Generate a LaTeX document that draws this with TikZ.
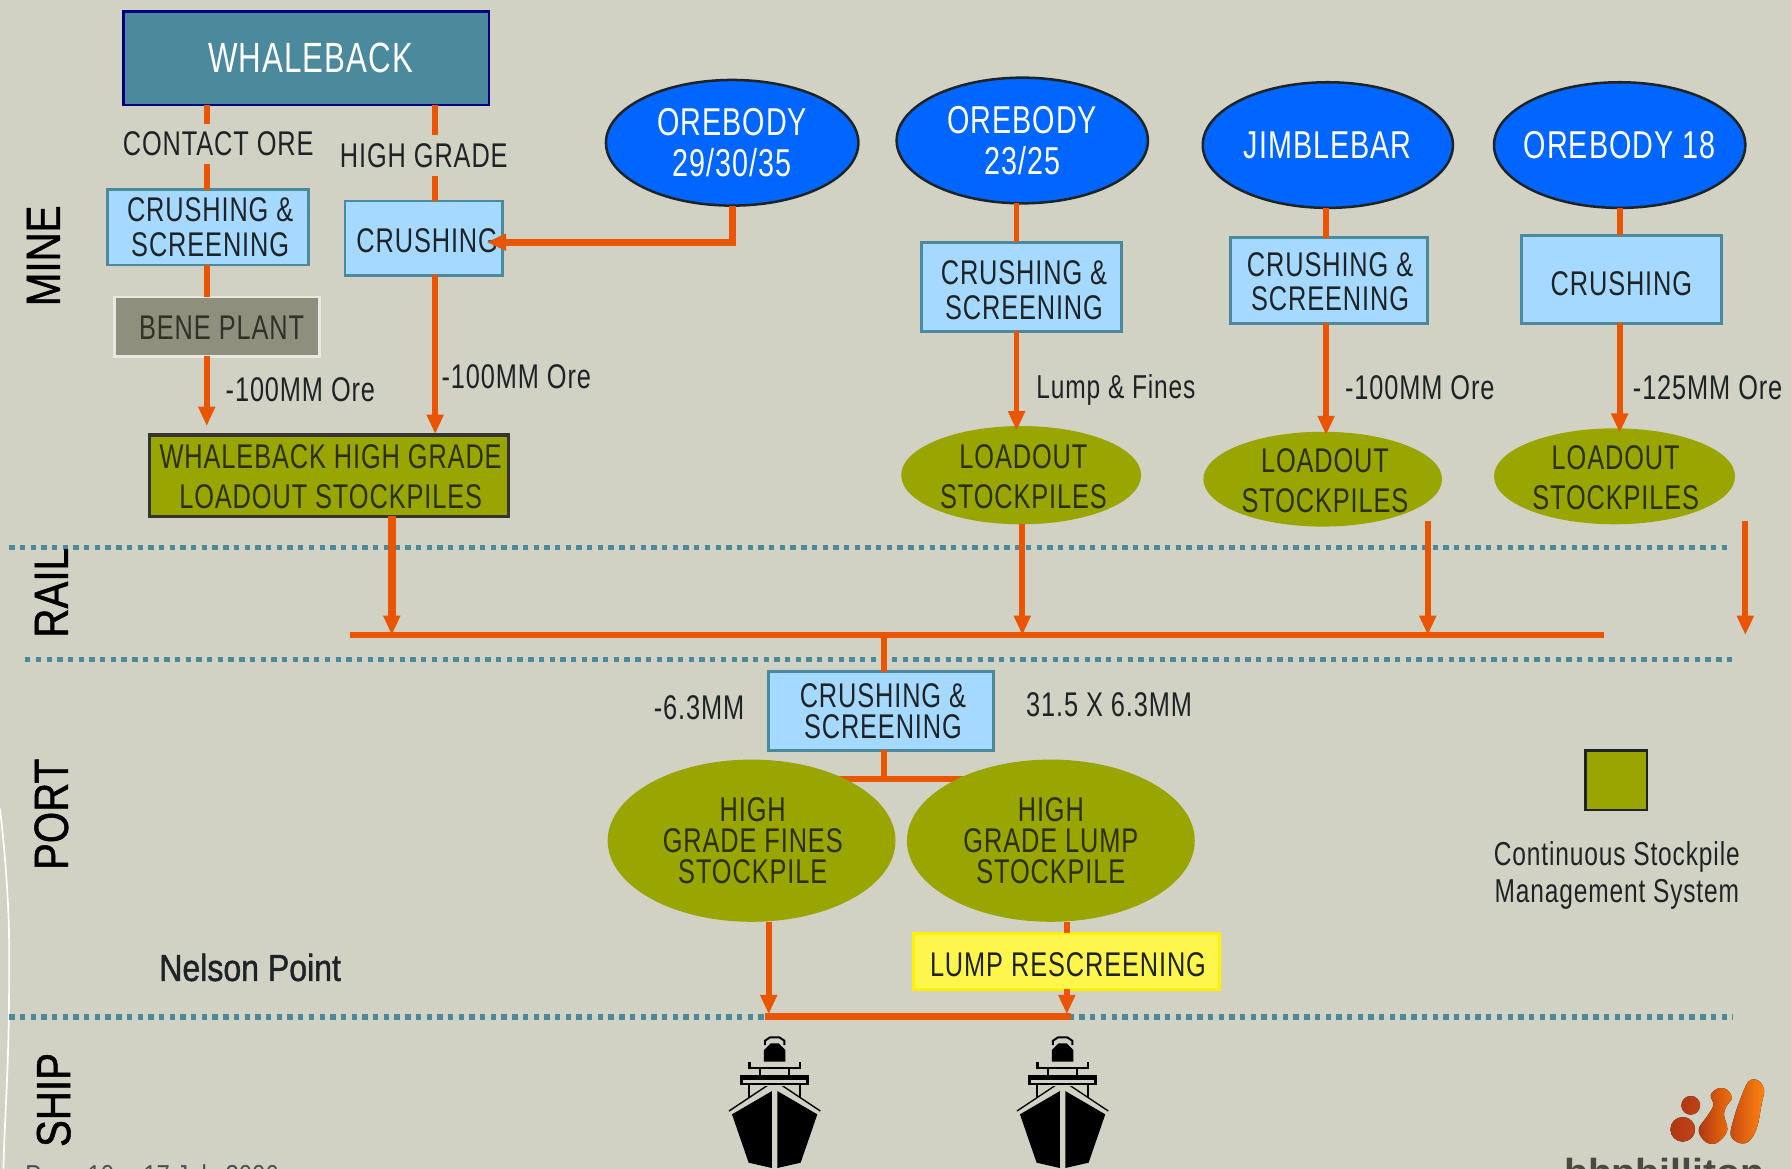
\documentclass[tikz,border=0pt]{standalone}
\usepackage{fontspec}
\setmainfont[FakeStretch=0.74,LetterSpace=2.6]{Liberation Sans}
\newfontfamily\nelson[FakeStretch=0.85,FakeBold=1.2]{Liberation Sans}
\newfontfamily\sidefont[FakeStretch=0.84,FakeBold=1]{Liberation Sans}
\newfontfamily\footfont[FakeStretch=0.87]{Liberation Sans}
\newfontfamily\logofont[FakeStretch=1.04]{Liberation Sans}
\usetikzlibrary{shapes.geometric,arrows.meta,calc}
\pgfdeclarelayer{bgfill}
\pgfdeclarelayer{lowconn}
\pgfsetlayers{bgfill,lowconn,main}
\definecolor{bgc}{HTML}{D1D1C4}
\definecolor{tealc}{HTML}{4A8A9C}
\definecolor{navyc}{HTML}{000080}
\definecolor{skyc}{HTML}{A6D9FF}
\definecolor{olivec}{HTML}{99A500}
\definecolor{orangec}{HTML}{EA5504}
\definecolor{bluec}{HTML}{0066FF}
\definecolor{inkc}{HTML}{1E2426}
\definecolor{olivetxt}{HTML}{2C3008}
\definecolor{benec}{HTML}{8F8F7D}
\definecolor{beneb}{HTML}{E8E8E0}
\definecolor{benet}{HTML}{303228}
\definecolor{logot}{HTML}{4A4A44}
\definecolor{logoa}{HTML}{B03812}
\definecolor{logob}{HTML}{C2421A}
\definecolor{logoc}{HTML}{F0700A}
\definecolor{logod}{HTML}{C84A10}
\definecolor{logoe}{HTML}{FF8410}
\newcommand{\fs}[2]{\fontsize{#1}{#2}\selectfont}
\tikzset{
  x=1pt,y=-1pt,
  conn/.style={draw=orangec,line width=5pt},
  arr/.style={conn,-{Triangle[width=14pt,length=17pt]}},
  dots/.style={draw=tealc,line width=4.7pt,dash pattern=on 4.7pt off 4.67pt},
  base/.style={inner sep=0pt,outer sep=0pt,align=center},
  sky/.style={base,rectangle,draw=tealc,line width=2.5pt,fill=skyc},
  skytx/.style={align=center,inner sep=0pt,text=inkc,font=\fs{30}{30}},
  txt/.style={inner sep=0pt,align=center,text=inkc,font=\fs{30}{30}},
  gap/.style={txt,fill=bgc,inner ysep=3pt,inner xsep=1pt},
  side/.style={inner sep=0pt,rotate=90,text=black,font=\sidefont\fs{42}{42}},
  blue/.style={base,ellipse,draw=inkc,line width=2.2pt,fill=bluec},
  bluetxt/.style={align=center,inner sep=0pt,text=white,font=\fs{34}{36}},
  olive/.style={base,ellipse,fill=olivec},
  olivetx/.style={align=center,inner sep=0pt,text=olivetxt,font=\fs{30}{35}},
  portx/.style={align=center,inner sep=0pt,text=olivetxt,font=\fs{30}{27}},
  shipblack/.style={fill=black,draw=none},
}
\newcommand{\shipicon}[2]{%
  \begin{scope}[shift={(#1,#2)},x=.2918pt,y=-.2918pt]
    \fill[shipblack] (-8,333) -- (-128,403) -- (-78,548) -- (-8,564) -- cycle;
    \fill[shipblack] (8,333) -- (128,403) -- (78,548) -- (8,564) -- cycle;
    \draw[black,line width=1.2pt] (-137,393) -- (-20,315) -- (20,315) -- (137,393);
    \draw[black,line width=1.5pt] (-76,315) -- (-76,352) (76,315) -- (76,352);
    \fill[shipblack] (-104,285) rectangle (104,316);
    \fill[bgc] (-95,300) rectangle (95,309);
    \fill[bgc] (-72,316) rectangle (72,318);
    \fill[shipblack] (-24,309) rectangle (24,316);
    \fill[shipblack] (-79,245) rectangle (79,268);
    \fill[bgc] (-72,247) rectangle (72,262);
    \draw[black,line width=1.5pt] (-44,268) -- (-44,285) (44,268) -- (44,285);
    \fill[shipblack] (-32,245) -- (-32,210) -- (-12,190) -- (12,190) -- (32,210) -- (32,245) -- cycle;
    \draw[black,line width=1.7pt] (-29,195) -- (-29,182) -- (-14,172) -- (14,172) -- (29,182) -- (29,195);
  \end{scope}}
\begin{document}
\begin{tikzpicture}
\begin{pgfonlayer}{bgfill}
\fill[bgc] (0,0) rectangle (1568,1023);
\end{pgfonlayer}
\useasboundingbox (0,0) rectangle (1568,1023);
\draw[white,line width=1.5pt] (0,708) .. controls (6,760) and (9,810) .. (8,860) .. controls (8,930) and (4,980) .. (3,1023);

% separators
\coordinate (d1a) at (8,479.5);   \coordinate (d1b) at (1515,479.5);
\coordinate (d2a) at (22,577.5);  \coordinate (d2b) at (1521,577.5);
\coordinate (d3a) at (8,890.5);   \coordinate (d3b) at (1517,890.5);
\draw[dots] (d1a) -- (d1b);
\draw[dots] (d2a) -- (d2b);
\draw[dots] (d3a) -- (d3b);

% side titles
\node[side] (tmine) at (38,224) {MINE};
\node[side] (trail) at (45,519) {RAIL};
\node[side] (tport) at (45,713) {PORT};
\node[side] (tship) at (47,963) {SHIP};

% mine sites
\node[base,rectangle,draw=navyc,line width=2.4pt,fill=tealc,minimum width=320pt,minimum height=82pt,
      label={[align=center,inner sep=0pt,text=white,font=\fs{37}{37},xshift=4pt]center:WHALEBACK}] (wb) at (268,51) {};
\node[blue,minimum width=221pt,minimum height=110pt,label={[bluetxt]center:OREBODY\\29/30/35}] (ob29) at (641,125) {};
\node[blue,minimum width=220pt,minimum height=110pt,label={[bluetxt]center:OREBODY\\23/25}] (ob23) at (895,123) {};
\node[blue,minimum width=219pt,minimum height=110pt,label={[bluetxt]center:JIMBLEBAR}] (jim) at (1162.5,127) {};
\node[blue,minimum width=220pt,minimum height=110pt,label={[bluetxt]center:OREBODY 18}] (ob18) at (1418,127) {};

% processing
\node[sky,minimum width=176pt,minimum height=66pt,label={[skytx,xshift=2pt,yshift=0pt]center:CRUSHING \&\\SCREENING}] (cs1) at (182,199) {};
\node[sky,minimum width=138pt,minimum height=65pt,label={[skytx,xshift=3pt,yshift=-2pt]center:CRUSHING}] (cr1) at (371,208.5) {};
\node[sky,minimum width=175pt,minimum height=78pt,label={[skytx,xshift=2pt,yshift=-3pt]center:CRUSHING \&\\SCREENING}] (cs2) at (894.5,251) {};
\node[sky,minimum width=173pt,minimum height=75pt,label={[skytx,xshift=1pt,yshift=-1pt]center:CRUSHING \&\\SCREENING}] (cs3) at (1163.5,245.5) {};
\node[sky,minimum width=175pt,minimum height=77pt,label={[skytx,yshift=-4pt]center:CRUSHING}] (cr2) at (1419.5,244.5) {};
\node[base,rectangle,draw=beneb,line width=2.5pt,fill=benec,minimum width=180pt,minimum height=52pt,
      label={[align=center,inner sep=0pt,text=benet,font=\fs{30}{30},xshift=4pt,yshift=-1pt]center:BENE PLANT}] (bene) at (190,286) {};
\node[base,rectangle,draw=black!75!bgc,line width=3pt,fill=olivec,minimum width=314pt,minimum height=71pt,
      label={[olivetx,xshift=1.5pt,yshift=-.5pt]center:WHALEBACK HIGH GRADE\\LOADOUT STOCKPILES}] (wh) at (288,416.5) {};
\node[olive,minimum width=210pt,minimum height=86pt,label={[olivetx,xshift=2pt,yshift=-1.5pt]center:LOADOUT\\STOCKPILES}] (lo1) at (894,416) {};
\node[olive,minimum width=209pt,minimum height=83pt,label={[olivetx,xshift=2pt,yshift=-1pt]center:LOADOUT\\STOCKPILES}] (lo2) at (1158,419.5) {};
\node[olive,minimum width=211pt,minimum height=84pt,label={[olivetx,xshift=1pt,yshift=-1pt]center:LOADOUT\\STOCKPILES}] (lo3) at (1413.5,417) {};

% port
\node[sky,minimum width=197pt,minimum height=69pt,label={[skytx,font=\fs{30}{27},xshift=1.5pt,yshift=-.5pt]center:CRUSHING \&\\SCREENING}] (cs4) at (771.5,622.5) {};
\node[olive,minimum width=252pt,minimum height=142pt,label={[portx,xshift=1pt]center:HIGH\\GRADE FINES\\STOCKPILE}] (hf) at (658,736) {};
\node[olive,minimum width=252pt,minimum height=142pt,label={[portx]center:HIGH\\GRADE LUMP\\STOCKPILE}] (hl) at (920,736) {};
\node[base,rectangle,draw=yellow,line width=2.5pt,fill=yellow!70!white,minimum width=268pt,minimum height=49pt,
      label={[skytx,xshift=1pt,yshift=-3pt]center:LUMP RESCREENING}] (lr) at (934,841.5) {};
\node[base,rectangle,draw=inkc,line width=2.2pt,fill=olivec,minimum width=54pt,minimum height=52pt] (leg) at (1415,683) {};

% vertical guide positions
\coordinate (xa) at (181,0);
\coordinate (xb) at (381,0);
\coordinate (xc) at (890,0);
\coordinate (xd) at (1161,0);
\coordinate (xe) at (1418,0);
\coordinate (xw) at (343,0);
\coordinate (xf) at (895,0);
\coordinate (xg) at (1250,0);
\coordinate (xh) at (1528,0);
\coordinate (xm) at (774,0);
\coordinate (xp) at (673,0);
\coordinate (xq) at (934,0);
\coordinate (busa) at (306,556);
\coordinate (busb) at (1404,556);
\coordinate (fg) at (1250,456);
\coordinate (fh) at (1528,456);
\coordinate (teey) at (0,682);
\coordinate (endy) at (0,888);
\coordinate (baya) at (670,890);
\coordinate (bayb) at (938,890);
\coordinate (hook) at (641,212);
\coordinate (hooke) at (426,212);

% connectors
\draw[conn] (xa |- wb.south) -- (xa |- cs1.north);
\draw[conn] (xb |- wb.south) -- (xb |- cr1.north);
\draw[conn] (xa |- cs1.south) -- (xa |- bene.north);
\draw[arr] (xa |- bene.south) -- ($(xa |- wh.north)+(0,-8)$);
\draw[arr] (xb |- cr1.south) -- ($(xb |- wh.north)+(0,-1)$);
\draw[arr,line width=6pt] (ob29.south) -- (hook) -- (hooke);
\draw[conn] (xc |- ob23.south) -- (xc |- cs2.north);
\draw[arr] (xc |- cs2.south) -- ($(xc |- lo1.north)+(0,4)$);
\draw[conn] (xd |- jim.south) -- (xd |- cs3.north);
\draw[arr] (xd |- cs3.south) -- ($(xd |- lo2.north)+(0,3)$);
\draw[conn] (xe |- ob18.south) -- (xe |- cr2.north);
\draw[arr] (xe |- cr2.south) -- ($(xe |- lo3.north)+(0,4)$);
\draw[conn] (busa) -- (busb);
\draw[arr,line width=7pt] (xw |- wh.south) -- (xw |- busa);
\draw[arr] (xf |- lo1.south) -- (xf |- busa);
\draw[arr] (fg) -- (xg |- busa);
\draw[arr] (fh) -- (xh |- busa);
\draw[conn] (xm |- busa) -- (xm |- cs4.north);
\begin{pgfonlayer}{lowconn}
\draw[conn] (hf.center |- teey) -- (hl.center |- teey);
\end{pgfonlayer}
\draw[conn] (xm |- cs4.south) -- (xm |- teey);
\draw[arr] (xp |- hf.south) -- (xp |- endy);
\draw[conn] (xq |- hl.south) -- (xq |- lr.north);
\draw[arr] (xq |- lr.south) -- (xq |- endy);
\draw[conn,line width=6pt] (baya) -- (bayb);

% texts
\node[gap,minimum height=35pt] (tco) at (191,126) {CONTACT ORE};
\node[gap,minimum height=36pt] (thg) at (371,136) {HIGH GRADE};
\node[txt] (l1) at (263,341) {-100MM Ore};
\node[txt] (l2) at (452,330) {-100MM Ore};
\node[txt,font=\fs{29}{29}] (l3) at (977,341) {Lump \& Fines};
\node[txt] (l4) at (1243,339) {-100MM Ore};
\node[txt] (l5) at (1495,339) {-125MM Ore};
\node[txt] (l6) at (612,620) {-6.3MM};
\node[txt] (l7) at (971,617) {31.5 X 6.3MM};
\node[txt,font=\nelson\fs{33}{33}] (np) at (219,847) {Nelson Point};
\node[txt,font=\fs{29}{33}] (lt) at (1415.5,766.5) {Continuous Stockpile\\Management System};
\node[anchor=base west,inner sep=0pt,text=inkc!80!white,font=\footfont\fs{24}{24}] (pg) at (22,1037) {Page 10 -- 17 July 2006};

% ships
\shipicon{678.2}{858}
\shipicon{930.3}{858}

% logo
\begin{scope}[shift={(1313.3,910.5)},x=.2918pt,y=-.2918pt]
  \fill[left color=logoa,right color=logob] (572,196) circle (28);
  \fill[left color=logoa,right color=logob] (548,268) circle (37);
  \fill[left color=logoa,right color=logoc]
    plot[smooth cycle,tension=.6] coordinates {(632,165) (655,145) (682,150) (695,175) (680,197) (672,225) (682,268) (665,297) (640,312) (612,302) (596,268) (622,228) (640,195)};
  \fill[left color=logod,right color=logoe]
    plot[smooth cycle,tension=.6] coordinates {(745,125) (775,122) (792,150) (785,190) (770,265) (745,305) (715,308) (692,285) (700,240) (718,185)};
\end{scope}
\node[anchor=base,inner sep=0pt,text=logot,font=\logofont\bfseries\fs{33}{33}] (bhp) at (1457,1038) {bhpbilliton};
\end{tikzpicture}
\end{document}
